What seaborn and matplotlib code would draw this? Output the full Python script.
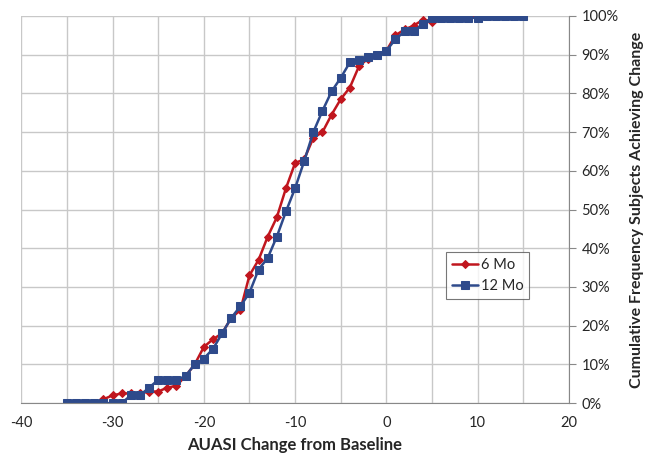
import matplotlib.pyplot as plt
import numpy as np
import pandas as pd
import seaborn as sns
from matplotlib.ticker import MultipleLocator, PercentFormatter

# change from baseline (integer steps) and cumulative % of subjects
x_6mo = list(range(-31, 11))
y_6mo = [1, 2, 2.5, 2.5, 2.5, 3, 3, 4, 4.5, 7, 10, 14.5, 16.5, 18, 22, 24,
         33, 37, 43, 48, 55.5, 62, 63, 68.5, 70, 74.5, 78.5, 81.5, 87, 89,
         90, 91, 95, 96.5, 97.5, 99, 98.5, 99.5, 99.5, 100, 100, 100]

x_12mo = list(range(-35, 16))
y_12mo = [0, 0, 0, 0, 0, 0, 0, 2, 2, 4, 6, 6, 6, 7, 10, 11.5, 14, 18, 22, 25,
          28.5, 34.5, 37.5, 43, 49.5, 55.5, 62.5, 70, 75.5, 80.5, 84, 88,
          88.5, 89.5, 90, 91, 94, 96, 96, 98, 99.5, 99.5, 99.5, 99.5, 99.5,
          99.5, 100, 100, 100, 100, 100]

sns.set_style("white")
plt.rcParams["font.family"] = ["Lato", "DejaVu Sans"]
plt.rcParams["axes.unicode_minus"] = False

df6 = pd.DataFrame({"change": x_6mo, "pct": y_6mo})
df12 = pd.DataFrame({"change": x_12mo, "pct": y_12mo})

fig = plt.figure(figsize=(6.45, 4.55), dpi=100)
ax = fig.add_axes([0.033, 0.114, 0.849, 0.851])

red = "#C0161E"
blue = "#2E4A8B"
sns.lineplot(data=df6, x="change", y="pct", ax=ax, color=red, marker="D",
             markersize=4.5, markeredgecolor=red, linewidth=1.8, label="6 Mo")
sns.lineplot(data=df12, x="change", y="pct", ax=ax, color=blue, marker="s",
             markersize=5.5, markeredgecolor=blue, linewidth=1.8, label="12 Mo")

ax.set_xlim(-40, 20)
ax.set_ylim(0, 100)
ax.xaxis.set_major_locator(MultipleLocator(10))
ax.xaxis.set_minor_locator(MultipleLocator(5))
ax.yaxis.set_major_locator(MultipleLocator(10))
ax.yaxis.set_major_formatter(PercentFormatter(decimals=0))
ax.yaxis.tick_right()
ax.yaxis.set_label_position("right")
ax.grid(True, which="both", color="#c8c8c8", linewidth=1)
ax.set_axisbelow(True)

for side in ["top", "left"]:
    ax.spines[side].set_visible(False)
for side in ["bottom", "right"]:
    ax.spines[side].set_color("#888888")
ax.tick_params(axis="both", which="major", direction="out", length=5,
               color="#888888", labelsize=10.5, pad=4)
ax.tick_params(axis="x", which="minor", length=0)

ax.set_xlabel("AUASI Change from Baseline", fontsize=12, fontweight="bold",
              labelpad=5)
ax.set_ylabel("Cumulative Frequency Subjects Achieving Change", fontsize=11.5,
              fontweight="bold", labelpad=8)

leg = ax.legend(loc="lower left", bbox_to_anchor=(0.762, 0.25), fontsize=10.5,
                frameon=True, fancybox=False, borderpad=0.4, handlelength=1.8,
                handletextpad=0.2, labelspacing=0.5)
leg.get_frame().set_edgecolor("#555555")
leg.get_frame().set_linewidth(0.8)

fig.savefig("out.png", dpi=100)
